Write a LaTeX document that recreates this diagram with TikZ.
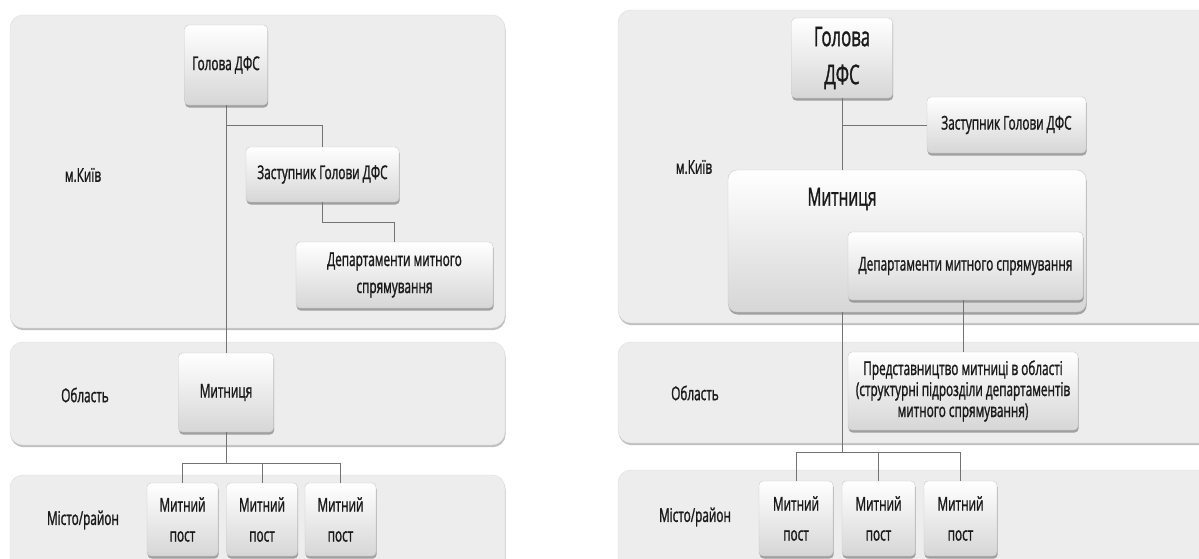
\documentclass[tikz,border=0pt]{standalone}
\usepackage{fontspec}
\setmainfont{Open Sans}[FakeStretch=0.62, FakeBold=1.2]
\usetikzlibrary{shadows}
\definecolor{bandc}{HTML}{EDEDED}
\definecolor{txt}{HTML}{1A1A1A}
\begin{document}
\begin{tikzpicture}[x={(1pt,0)}, y={(0,-1pt)},
  band/.style={fill=bandc, draw=black!14, rounded corners=13pt,
    drop shadow={shadow xshift=0.6pt, shadow yshift=-2.2pt, opacity=0.5}},
  box/.style={draw=black!22, rounded corners=4pt, top color=white, bottom color=black!16,
    drop shadow={shadow xshift=0.6pt, shadow yshift=-2.5pt, opacity=0.7},
    align=center, inner sep=2pt, text=txt, font=\fontsize{19}{22}\selectfont},
  conn/.style={draw=black!55, line width=0.8pt},
  lbl/.style={text=txt, font=\fontsize{19}{22}\selectfont}]
\path[use as bounding box, clip] (0,0) rectangle (1199,558);
\fill[white] (0,0) rectangle (1199,558);
% bands
\path[band] (10,15) rectangle (505,328);
\path[band] (10,342) rectangle (505,445);
\path[band] (10,475) rectangle (505,580);
\path[band] (618,10) rectangle (1225,323);
\path[band] (618,342) rectangle (1225,443);
\path[band] (618,470) rectangle (1225,580);
% labels
\node[lbl] (l1) at (83,175) {м.Київ};
\node[lbl] (l2) at (85,395) {Область};
\node[lbl] (l3) at (83,520) {Місто/район};
\node[lbl] (r1) at (694,167) {м.Київ};
\node[lbl] (r2) at (695,393) {Область};
\node[lbl] (r3) at (695,517) {Місто/район};
% left boxes
\node[box, minimum width=83pt, minimum height=80pt] (g1) at (226,65) {Голова ДФС};
\node[box, minimum width=153pt, minimum height=55pt] (z1) at (322.5,174.5) {Заступник Голови ДФС};
\node[box, minimum width=197pt, minimum height=66pt, font=\fontsize{19}{27}\selectfont] (d1) at (394.5,275) {Департаменти митного\\спрямування};
\node[box, minimum width=95pt, minimum height=79pt] (m1) at (226,392.5) {Митниця};
\node[box, minimum width=71pt, minimum height=73pt, font=\fontsize{19}{30}\selectfont] (p1) at (182.5,519.5) {Митний\\пост};
\node[box, minimum width=71pt, minimum height=73pt, font=\fontsize{19}{30}\selectfont] (p2) at (262,519.5) {Митний\\пост};
\node[box, minimum width=71pt, minimum height=73pt, font=\fontsize{19}{30}\selectfont] (p3) at (340.5,519.5) {Митний\\пост};
% right boxes
\node[box, minimum width=101pt, minimum height=80pt, font=\fontsize{27}{38}\selectfont] (g2) at (842,58) {Голова\\ДФС};
\node[box, minimum width=159pt, minimum height=56pt] (z2) at (1006.5,125) {Заступник Голови ДФС};
\node[box, minimum width=358pt, minimum height=142pt, rounded corners=9pt] (mb) at (907,241) {};
\node[text=txt, font=\fontsize{25}{28}\selectfont] (mt) at (842,199) {Митниця};
\node[box, minimum width=235pt, minimum height=68pt] (d2) at (965.5,266) {Департаменти митного спрямування};
\node[box, minimum width=230pt, minimum height=78pt, font=\fontsize{19}{21}\selectfont] (pr) at (963,391) {Представництво митниці в області\\(структурні підрозділи департаментів\\митного спрямування)};
\node[box, minimum width=74pt, minimum height=75pt, font=\fontsize{19}{30}\selectfont] (q1) at (796,518.5) {Митний\\пост};
\node[box, minimum width=73pt, minimum height=75pt, font=\fontsize{19}{30}\selectfont] (q2) at (878.5,518.5) {Митний\\пост};
\node[box, minimum width=73pt, minimum height=75pt, font=\fontsize{19}{30}\selectfont] (q3) at (960.5,518.5) {Митний\\пост};
% left connectors
\coordinate (j1) at (226,125);
\coordinate (j2) at (394.5,222);
\coordinate (j3) at (226,463);
\draw[conn] (g1.south) -- (m1.north);
\draw[conn] (j1) -| (z1.north);
\draw[conn] (z1.south) |- (j2) -- (d1.north);
\draw[conn] (m1.south) -- (j3);
\draw[conn] (p1.north) |- (j3) -| (p3.north);
\draw[conn] (p2.north) -- (p2.north |- j3);
% right connectors
\coordinate (k1) at (842,125);
\coordinate (k2) at (842,452);
\draw[conn] (g2.south) -- (g2.south |- mb.north);
\draw[conn] (k1) -- (z2.west);
\draw[conn] (mb.south -| k2) -- (k2);
\draw[conn] (q1.north) |- (k2) -| (q3.north);
\draw[conn] (q2.north) -- (q2.north |- k2);
\draw[conn] (d2.south -| pr.north) -- (pr.north);
\end{tikzpicture}
\end{document}
